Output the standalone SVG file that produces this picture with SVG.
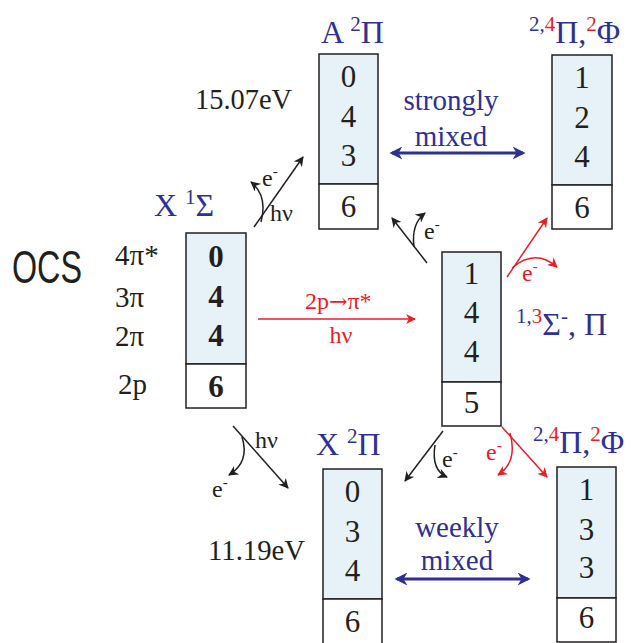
<svg xmlns="http://www.w3.org/2000/svg" width="635" height="643" viewBox="0 0 635 643">
<defs>
<style>
.box{fill:#e6f2f7;stroke:#231f20;stroke-width:1.5}
.wbox{fill:#ffffff;stroke:#231f20;stroke-width:1.5}
.d{font-family:"Liberation Serif",serif;font-size:31px;fill:#231f20;text-anchor:middle}
.db{font-family:"Liberation Serif",serif;font-size:31px;font-weight:bold;fill:#231f20;text-anchor:middle}
.t{font-family:"Liberation Serif",serif;font-size:32px;fill:#2e3192}
.red{fill:#ed1c24}
.lab{font-family:"Liberation Serif",serif;font-size:29px;fill:#231f20}
.sm{font-family:"Liberation Serif",serif;font-size:24px}
.mix{font-family:"Liberation Serif",serif;font-size:29px;fill:#2e3192;text-anchor:middle}
.k{stroke:#231f20;stroke-width:1.5;fill:none}
.r{stroke:#ed1c24;stroke-width:1.5;fill:none}
.b{stroke:#2e3192;stroke-width:3;fill:none}
</style>
<marker id="ak" viewBox="0 0 10 10" refX="9" refY="5" markerWidth="10" markerHeight="10" markerUnits="userSpaceOnUse" orient="auto"><path d="M0,0 L10,5 L0,10 L3,5 Z" fill="#231f20"/></marker>
<marker id="ar" viewBox="0 0 10 10" refX="9" refY="5" markerWidth="10" markerHeight="10" markerUnits="userSpaceOnUse" orient="auto"><path d="M0,0 L10,5 L0,10 L3,5 Z" fill="#ed1c24"/></marker>
<marker id="ab" viewBox="0 0 10 10" refX="8" refY="5" markerWidth="13" markerHeight="13" markerUnits="userSpaceOnUse" orient="auto-start-reverse"><path d="M0,0 L10,5 L0,10 L3,5 Z" fill="#2e3192"/></marker>
</defs>

<text x="12" y="283" font-family="Liberation Sans, sans-serif" font-size="46" fill="#231f20" textLength="70" lengthAdjust="spacingAndGlyphs">OCS</text>

<g id="X1S">
<text class="t" x="154" y="216">X <tspan font-size="21" dy="-12">1</tspan><tspan dy="12">Σ</tspan></text>
<rect class="box" x="186" y="233" width="60" height="131"/>
<rect class="wbox" x="186" y="364" width="60" height="44"/>
<text class="db" x="216" y="267">0</text>
<text class="db" x="216" y="307">4</text>
<text class="db" x="216" y="346">4</text>
<text class="db" x="216" y="397">6</text>
<text class="lab" x="115" y="265">4π*</text>
<text class="lab" x="115" y="307">3π</text>
<text class="lab" x="115" y="346">2π</text>
<text class="lab" x="118" y="394">2p</text>
</g>

<g id="A2P">
<text class="t" x="321" y="43">A <tspan font-size="21" dy="-12">2</tspan><tspan dy="12">Π</tspan></text>
<rect class="box" x="319" y="54" width="59" height="130"/>
<rect class="wbox" x="319" y="184" width="59" height="45"/>
<text class="d" x="348.5" y="87">0</text>
<text class="d" x="348.5" y="127">4</text>
<text class="d" x="348.5" y="166">3</text>
<text class="d" x="348.5" y="217">6</text>
<text class="lab" x="195" y="109" textLength="97" lengthAdjust="spacingAndGlyphs">15.07eV</text>
</g>

<g id="TR">
<text class="t" x="529" y="43"><tspan font-size="21" dy="-12">2,</tspan><tspan font-size="21" class="red">4</tspan><tspan dy="12">Π,</tspan><tspan font-size="21" dy="-12" class="red">2</tspan><tspan dy="12">Φ</tspan></text>
<rect class="box" x="552" y="55" width="60" height="130"/>
<rect class="wbox" x="552" y="185" width="60" height="44"/>
<text class="d" x="582" y="88">1</text>
<text class="d" x="582" y="128">2</text>
<text class="d" x="582" y="167">4</text>
<text class="d" x="582" y="218">6</text>
</g>

<g id="CORE">
<rect class="box" x="442" y="252" width="59" height="130"/>
<rect class="wbox" x="442" y="382" width="59" height="44"/>
<text class="d" x="471.5" y="284">1</text>
<text class="d" x="471.5" y="323">4</text>
<text class="d" x="471.5" y="362">4</text>
<text class="d" x="471.5" y="413">5</text>
<text class="t" x="516" y="335"><tspan font-size="21" dy="-12">1,</tspan><tspan font-size="21" class="red">3</tspan><tspan dy="12">Σ</tspan><tspan font-size="21" dy="-12">-</tspan><tspan dy="12">, Π</tspan></text>
</g>

<g id="X2P">
<text class="t" x="316" y="455">X <tspan font-size="21" dy="-12">2</tspan><tspan dy="12">Π</tspan></text>
<rect class="box" x="323" y="469" width="59" height="130"/>
<rect class="wbox" x="323" y="599" width="59" height="48"/>
<text class="d" x="352.5" y="502">0</text>
<text class="d" x="352.5" y="542">3</text>
<text class="d" x="352.5" y="581">4</text>
<text class="d" x="352.5" y="632">6</text>
<text class="lab" x="208" y="560" textLength="97" lengthAdjust="spacingAndGlyphs">11.19eV</text>
</g>

<g id="BR">
<text class="t" x="533" y="453"><tspan font-size="21" dy="-12">2,</tspan><tspan font-size="21" class="red">4</tspan><tspan dy="12">Π,</tspan><tspan font-size="21" dy="-12" class="red">2</tspan><tspan dy="12">Φ</tspan></text>
<rect class="box" x="557" y="467" width="59" height="131"/>
<rect class="wbox" x="557" y="598" width="59" height="44"/>
<text class="d" x="586.5" y="500">1</text>
<text class="d" x="586.5" y="540">3</text>
<text class="d" x="586.5" y="578">3</text>
<text class="d" x="586.5" y="628">6</text>
</g>

<g id="connectors">
<line class="b" x1="392" y1="153" x2="523" y2="153" marker-start="url(#ab)" marker-end="url(#ab)"/>
<text class="mix" x="451" y="110">strongly</text>
<text class="mix" x="451" y="146">mixed</text>
<line class="b" x1="397" y1="579" x2="528" y2="579" marker-start="url(#ab)" marker-end="url(#ab)"/>
<text class="mix" x="457" y="537">weekly</text>
<text class="mix" x="457" y="570">mixed</text>

<line class="k" x1="254" y1="227" x2="303" y2="157" marker-end="url(#ak)"/>
<path class="k" d="M261,222 Q268,196 251,182" marker-end="url(#ak)"/>
<text class="sm" x="262" y="186" fill="#231f20">e<tspan font-size="15" dy="-10">-</tspan></text>
<text class="sm" x="270" y="221" fill="#231f20">hν</text>

<line class="k" x1="233" y1="426" x2="288" y2="488" marker-end="url(#ak)"/>
<path class="k" d="M242,437 Q250,462 229,475" marker-end="url(#ak)"/>
<text class="sm" x="255" y="448" fill="#231f20">hν</text>
<text class="sm" x="212" y="497" fill="#231f20">e<tspan font-size="15" dy="-10">-</tspan></text>

<line class="r" x1="258" y1="319" x2="415" y2="319" marker-end="url(#ar)"/>
<text class="sm red" x="305" y="309">2p<tspan font-family="DejaVu Serif, serif" font-size="22">→</tspan>π*</text>
<text class="sm red" x="341" y="343" text-anchor="middle">hν</text>

<line class="k" x1="427" y1="263" x2="392" y2="218" marker-end="url(#ak)"/>
<path class="k" d="M414,247 Q411,224 425,213" marker-end="url(#ak)"/>
<text class="sm" x="424" y="239" fill="#231f20">e<tspan font-size="15" dy="-10">-</tspan></text>

<line class="r" x1="507" y1="277" x2="547" y2="218" marker-end="url(#ar)"/>
<path class="r" d="M512,268 Q535,248 557,267" marker-end="url(#ar)"/>
<text class="sm red" x="522" y="281">e<tspan font-size="15" dy="-10">-</tspan></text>

<line class="k" x1="443" y1="431" x2="405" y2="481" marker-end="url(#ak)"/>
<path class="k" d="M435,445 Q431,470 447,477" marker-end="url(#ak)"/>
<text class="sm" x="442" y="467" fill="#231f20">e<tspan font-size="15" dy="-10">-</tspan></text>

<line class="r" x1="502" y1="427" x2="547" y2="477" marker-end="url(#ar)"/>
<path class="r" d="M510,433 Q518,462 498,475" marker-end="url(#ar)"/>
<text class="sm red" x="486" y="460">e<tspan font-size="15" dy="-10">-</tspan></text>
</g>
</svg>
